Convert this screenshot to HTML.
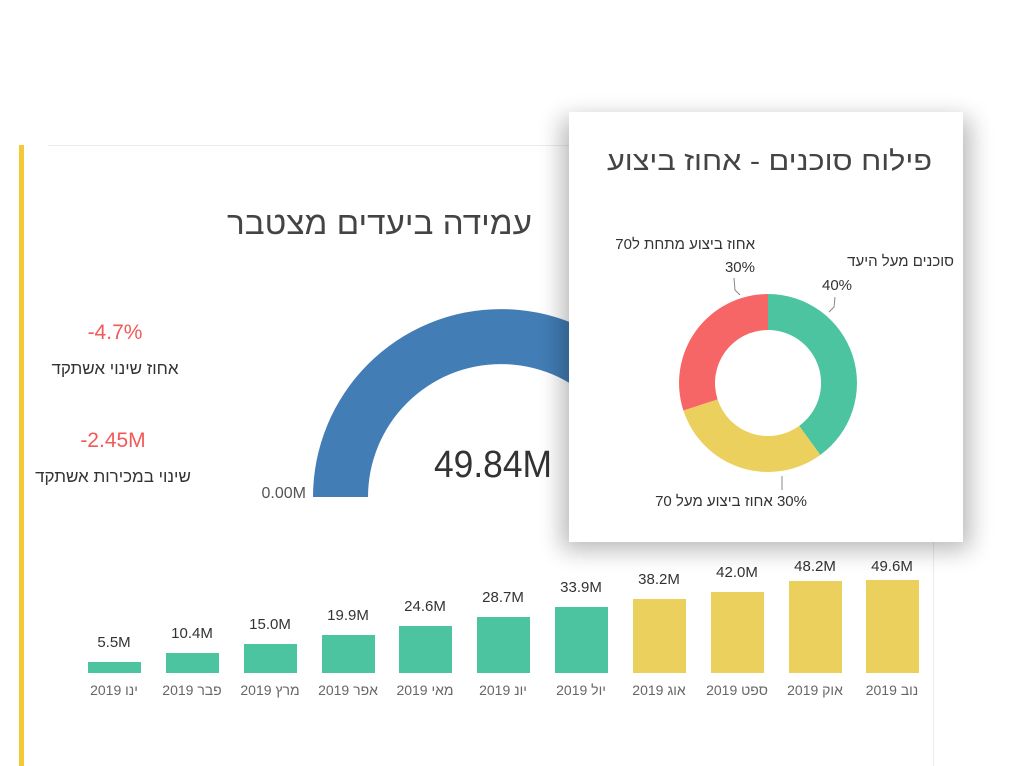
<!DOCTYPE html>
<html><head><meta charset="utf-8"><style>
html,body{margin:0;padding:0;background:#fff;width:1014px;height:766px;overflow:hidden}
svg{display:block}
text{font-family:"Liberation Sans","DejaVu Sans",sans-serif}
</style></head><body>
<svg width="1014" height="766" viewBox="0 0 1014 766" xmlns="http://www.w3.org/2000/svg">
<defs>
<filter id="sh" x="-20%" y="-20%" width="140%" height="140%"><feGaussianBlur stdDeviation="12"/></filter>
</defs>
<rect x="0" y="0" width="1014" height="766" fill="#fff"/>
<rect x="19" y="145" width="5" height="621" fill="#f5c933"/>
<line x1="48" y1="145.5" x2="570" y2="145.5" stroke="#ececec"/>
<line x1="933.5" y1="540" x2="933.5" y2="766" stroke="#ececec"/>
<text x="532" y="234" font-size="32" fill="#444" text-anchor="start" direction="rtl" textLength="305" lengthAdjust="spacingAndGlyphs">עמידה ביעדים מצטבר</text>
<text x="115" y="339" font-size="21" fill="#f25a5a" text-anchor="middle">-4.7%</text>
<text x="115" y="374" font-size="17" fill="#333" text-anchor="middle" direction="rtl">אחוז שינוי אשתקד</text>
<text x="113" y="447" font-size="21" fill="#f25a5a" text-anchor="middle">-2.45M</text>
<text x="113" y="482" font-size="17" fill="#333" text-anchor="middle" direction="rtl">שינוי במכירות אשתקד</text>
<path d="M313 497 A188 188 0 0 1 689 497 L634 497 A133 133 0 0 0 368 497 Z" fill="#427db5"/>
<text x="306" y="498" font-size="16" fill="#555" text-anchor="end">0.00M</text>
<text x="493" y="477" font-size="38" fill="#333" text-anchor="middle" textLength="118" lengthAdjust="spacingAndGlyphs">49.84M</text>
<g fill="#4cc4a0">
<rect x="88" y="662" width="53" height="11"/>
<rect x="166" y="653" width="53" height="20"/>
<rect x="244" y="644" width="53" height="29"/>
<rect x="322" y="635" width="53" height="38"/>
<rect x="399" y="626" width="53" height="47"/>
<rect x="477" y="617" width="53" height="56"/>
<rect x="555" y="607" width="53" height="66"/>
</g>
<g fill="#ebd05e">
<rect x="633" y="599" width="53" height="74"/>
<rect x="711" y="592" width="53" height="81"/>
<rect x="789" y="581" width="53" height="92"/>
<rect x="866" y="580" width="53" height="93"/>
</g>
<g font-size="15" fill="#333" text-anchor="middle">
<text x="114" y="647">5.5M</text><text x="192" y="638">10.4M</text><text x="270" y="629">15.0M</text>
<text x="348" y="620">19.9M</text><text x="425" y="611">24.6M</text><text x="503" y="602">28.7M</text>
<text x="581" y="592">33.9M</text><text x="659" y="584">38.2M</text><text x="737" y="577">42.0M</text>
<text x="815" y="571">48.2M</text><text x="892" y="571">49.6M</text>
</g>
<g font-size="14" fill="#666" text-anchor="middle" direction="rtl">
<text x="114" y="695">ינו 2019</text><text x="192" y="695">פבר 2019</text><text x="270" y="695">מרץ 2019</text>
<text x="348" y="695">אפר 2019</text><text x="425" y="695">מאי 2019</text><text x="503" y="695">יונ 2019</text>
<text x="581" y="695">יול 2019</text><text x="659" y="695">אוג 2019</text><text x="737" y="695">ספט 2019</text>
<text x="815" y="695">אוק 2019</text><text x="892" y="695">נוב 2019</text>
</g>
<rect x="562" y="118" width="408" height="432" fill="#000" opacity="0.28" filter="url(#sh)"/>
<rect x="569" y="112" width="394" height="430" fill="#fff"/>
<text x="932" y="170" font-size="27" fill="#444" text-anchor="start" direction="rtl" textLength="325" lengthAdjust="spacingAndGlyphs">פילוח סוכנים - אחוז ביצוע</text>
<path d="M768 294 A89 89 0 0 1 820.3 455 L799.2 425.9 A53 53 0 0 0 768 330 Z" fill="#4cc4a0"/>
<path d="M820.3 455 A89 89 0 0 1 683.4 410.5 L717.6 399.4 A53 53 0 0 0 799.2 425.9 Z" fill="#ebd05e"/>
<path d="M683.4 410.5 A89 89 0 0 1 768 294 L768 330 A53 53 0 0 0 717.6 399.4 Z" fill="#f66666"/>
<g stroke="#888" fill="none" stroke-width="1"><path d="M734 278 L735 290 L740 295"/><path d="M835 297 L834 307 L829 312"/><path d="M782 476 L782 490"/></g>
<g font-size="15" fill="#333">
<text x="755" y="249" text-anchor="start" direction="rtl">אחוז ביצוע מתחת ל70</text>
<text x="755" y="272" text-anchor="end">30%</text>
<text x="954" y="266" text-anchor="start" direction="rtl">סוכנים מעל היעד</text>
<text x="822" y="290">40%</text>
<text x="807" y="506" text-anchor="start" direction="rtl">30% אחוז ביצוע מעל 70</text>
</g>
</svg>
</body></html>
